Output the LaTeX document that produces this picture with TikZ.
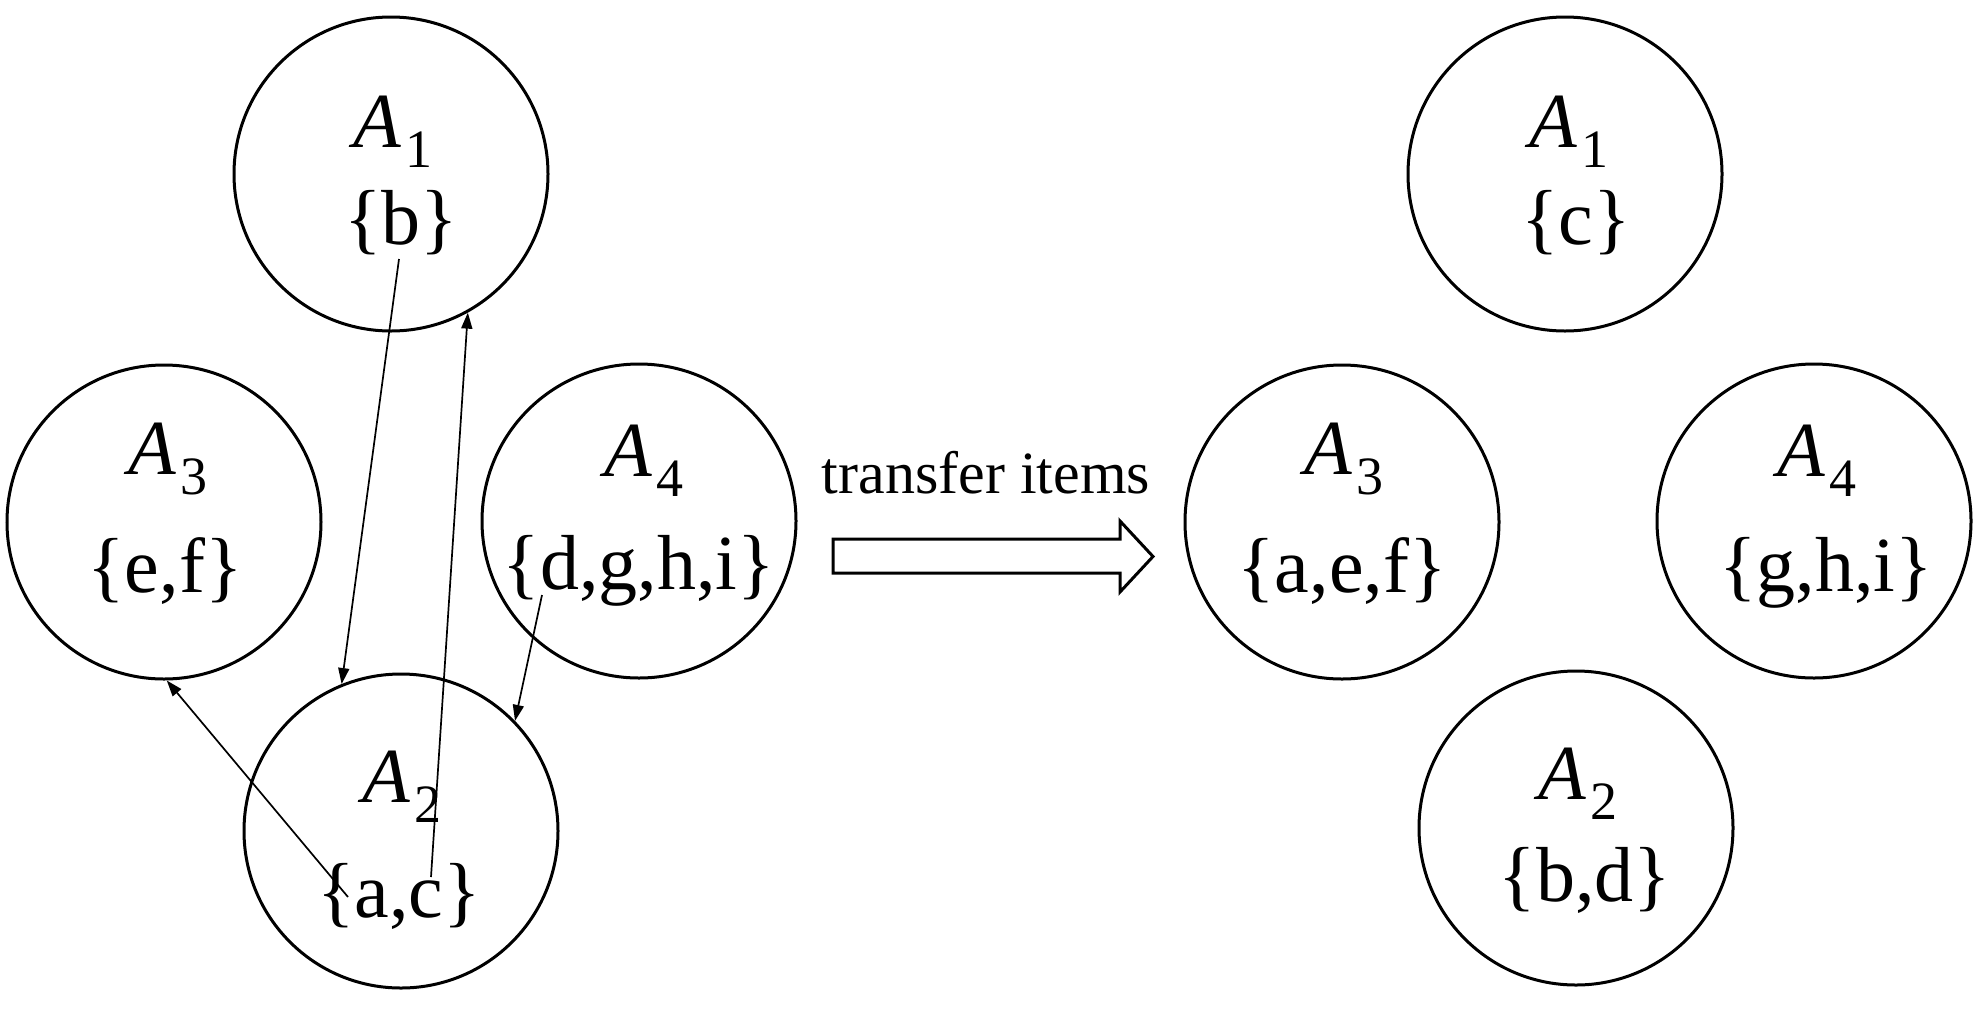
\documentclass[tikz,border=0pt]{standalone}
\usepackage{fontspec}
\setmainfont{Liberation Serif}
\usetikzlibrary{arrows.meta}
\tikzset{
  setcirc/.style={circle, draw, line width=3pt, minimum size=314pt, inner sep=0pt},
  lbl/.style={anchor=base, inner sep=0pt, font=\fontsize{78}{78}\selectfont},
  elems/.style={anchor=base, inner sep=0pt, font=\fontsize{78}{78}\selectfont},
  mv/.style={-{Triangle[length=16pt,width=11pt]}, line width=1.7pt},
  bigarrow/.style={draw, line width=3pt, line join=miter, fill=white},
}
\newcommand{\Albl}[1]{\textit{A}\kern4pt\raisebox{-20pt}{\fontsize{54}{54}\selectfont #1}}
\begin{document}
\begin{tikzpicture}[x=1pt,y=-1pt]
\useasboundingbox (0,0) rectangle (1983,1010);
% left group
\node[setcirc] (L1) at (391,174) {};
\node[setcirc] (L3) at (164,522) {};
\node[setcirc] (L4) at (639,521) {};
\node[setcirc] (L2) at (401,831) {};
\node[lbl] (L1a) at (393,147) {\Albl{1}};
\node[elems] (L1s) at (401,244) {\{b\}};
\node[lbl] (L3a) at (168,474) {\Albl{3}};
\node[elems] (L3s) at (165,592) {\{e,f\}};
\node[lbl] (L4a) at (644,476) {\Albl{4}};
\node[elems] (L4s) at (639,589) {\{d,g,h,i\}};
\node[lbl] (L2a) at (402,802) {\Albl{2}};
\node[elems] (L2s) at (399,917) {\{a,c\}};
% right group
\node[setcirc] (R1) at (1565,174) {};
\node[setcirc] (R3) at (1342,522) {};
\node[setcirc] (R4) at (1814,521) {};
\node[setcirc] (R2) at (1576,828) {};
\node[lbl] (R1a) at (1569,147) {\Albl{1}};
\node[elems] (R1s) at (1576,244) {\{c\}};
\node[lbl] (R3a) at (1344,474) {\Albl{3}};
\node[elems] (R3s) at (1342,592) {\{a,e,f\}};
\node[lbl] (R4a) at (1817,476) {\Albl{4}};
\node[elems] (R4s) at (1826,591) {\{g,h,i\}};
\node[lbl] (R2a) at (1578,799) {\Albl{2}};
\node[elems] (R2s) at (1585,901) {\{b,d\}};
% moves
\coordinate (s1) at (399,259);
\coordinate (s2) at (431,877);
\coordinate (s3) at (542,595);
\coordinate (s4) at (348,897);
\draw[mv] (s1) -- (L2.112.4);
\draw[mv] (s2) -- (L1.-61.6);
\draw[mv] (s3) -- (L2.44.7);
\draw[mv] (s4) -- (L3.-89);
% transfer
\node[anchor=base, inner sep=0pt, font=\fontsize{60}{60}\selectfont] (T) at (986,493) {transfer items};
\draw[bigarrow] (833,539) -- (1120,539) -- (1120,521) -- (1153,556.5) -- (1120,592) -- (1120,573) -- (833,573) -- cycle;
\end{tikzpicture}
\end{document}
